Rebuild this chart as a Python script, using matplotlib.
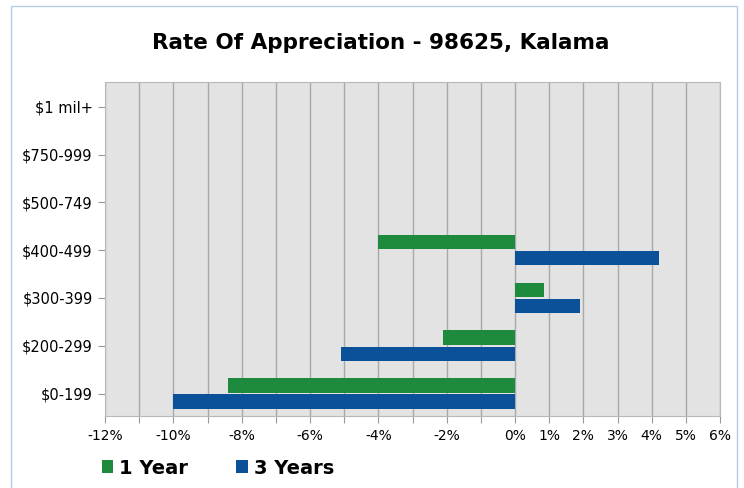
import matplotlib
matplotlib.use('Agg')
import matplotlib.pyplot as plt
import numpy as np
from matplotlib.patches import Rectangle

categories = ['$0-199', '$200-299', '$300-399', '$400-499', '$500-749', '$750-999', '$1 mil+']
one_year = [-8.4, -2.1, 0.85, -4.0, 0, 0, 0]
three_years = [-10.0, -5.1, 1.9, 4.2, 0, 0, 0]
x_ticks = list(range(-12, 7))
x_labels = ['%d%%' % t if (t >= 0 or t % 2 == 0) else '' for t in x_ticks]

green = '#1e8a3e'
blue = '#0b5199'

fig = plt.figure(figsize=(7.44, 4.88), dpi=100)
ax = fig.add_axes([105 / 744, 1 - 416 / 488, 615 / 744, 334 / 488])

y = np.arange(len(categories))
ax.barh(y + 0.17, one_year, height=0.3, color=green, label='1 Year', zorder=3)
ax.barh(y - 0.17, three_years, height=0.3, color=blue, label='3 Years', zorder=3)

ax.set_facecolor('#e3e3e3')
ax.set_xlim(-12, 6)
ax.set_ylim(-0.47, 6.52)
ax.set_xticks(x_ticks)
ax.set_xticklabels(x_labels, fontsize=10)
ax.set_yticks(y)
ax.set_yticklabels(categories, fontsize=10.5)
ax.grid(axis='x', color='#a8a8a8', linewidth=1, zorder=1)
ax.tick_params(axis='both', length=5, color='#999999', pad=4)
for s in ax.spines.values():
    s.set_color('#b8b8b8')

fig.text(381 / 744, 1 - 43 / 488, 'Rate Of Appreciation - 98625, Kalama',
         ha='center', va='center', fontsize=15.5, fontweight='bold')

h, l = ax.get_legend_handles_labels()
fig.legend(h, l, loc='center left', bbox_to_anchor=(84 / 744, 1 - 468 / 488),
           ncol=2, frameon=False, handlelength=0.6, handleheight=0.6,
           handletextpad=0.3, columnspacing=2.5, borderpad=0.4,
           prop={'weight': 'bold', 'size': 14})

fig.patches.append(Rectangle((11 / 744, -0.05), (737 - 11) / 744, 1.05 - 6 / 488,
                             transform=fig.transFigure, fill=False,
                             edgecolor='#b7cbe6', linewidth=1))

fig.savefig('out.png', dpi=100)
